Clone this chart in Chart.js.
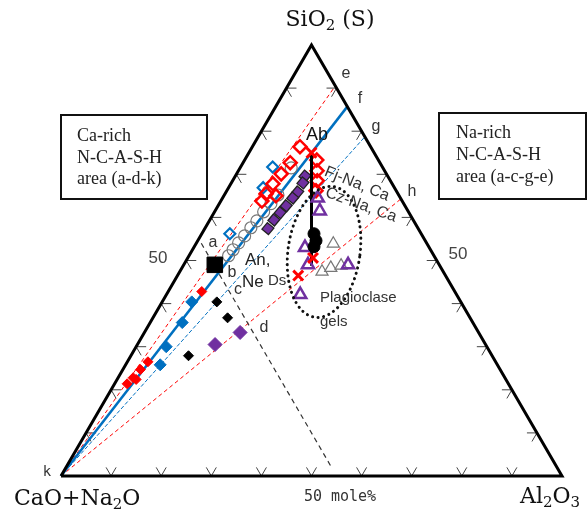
<!DOCTYPE html>
<html><head><meta charset="utf-8">
<script src="https://cdn.jsdelivr.net/npm/chart.js@4"></script>
<style>html,body{margin:0;padding:0;background:#fff;}#wrap{width:587px;height:517px;position:relative;}</style>
</head><body><div id="wrap"><canvas id="c" width="587" height="517"></canvas></div>
<script>
// ternary compositions as [SiO2, Al2O3] in mole%  (CaO+Na2O = 100 - SiO2 - Al2O3)
const tickValues = [10,20,30,40,50,60,70,80,90];
const vertexK = [0,0];
const vertexS = [100,0];
const vertexA = [0,100];
const endE = [90.5,9.5];
const endF = [85.7,14.3];
const endG = [78.7,21.3];
const endH = [64.3,35.7];
const lineAB_AN = [[75,12.5],[48.8,25.6]];
const dashedLine = [[54,1],[2,53]];
const ellipseCenter = [52,26.5];

const blueOpenDiamonds = [[71.7,6.4],[66.9,6.9],[56.2,5.6]];
const redOpenDiamonds = [[76.4,9.5],[72.7,9.4],[70.1,8.9],[67.8,8.4],[65.5,8.2],[63.8,8.2],[65.0,10.4],[73.3,14.4],[70.8,15.7],[68.5,16.9],[66.2,17.8]];
const redFilled = [[42.8,6.7],[26.5,4.1],[24.7,3.5],[22.8,3.0],[21.4,2.5],[22.4,3.8]];
const blueFilled = [[40.4,5.9],[35.6,6.4],[30.0,6.0],[25.8,6.9]];
const blackDiamonds = [[40.4,10.9],[36.7,14.9],[27.9,11.5]];
const blackSquare = [[49.0,6.2]];
const purpleDiamonds = [[30.5,15.5],[33.3,19.1]];
const grayCircles = [[51.1,7.9],[52.5,8.1],[54.1,8.4],[55.7,8.8],[57.6,9.1],[59.2,9.5],[61.3,9.8],[63.2,10.3],[65.2,10.7],[71.5,10.2]];
const purpleSquares = [[69.6,13.9],[68.0,14.3],[65.9,14.3],[64.5,14.0],[62.7,13.6],[61.1,13.2],[59.4,12.8],[57.4,12.6]];
const purpleTriangles = [[64.5,19.0],[61.5,20.9],[53.0,22.2],[49.0,24.8],[49.0,32.8],[42.1,26.7]];
const grayTriangles = [[53.9,27.4],[47.4,28.4],[48.3,29.7],[48.8,31.5]];
const blackCircles = [[56.2,22.4],[54.6,23.6],[53.2,23.9]];
const redCrosses = [[75.0,12.5],[50.6,25.0],[46.5,24.1]];

const SQ = Math.sqrt(3)/2;
function tp(p){ return p===null ? {x:null,y:null} : {x:(p[1]+p[0]/2)/100, y:p[0]/100*SQ}; }
function pts(a){ return a.map(tp); }

const RED='#ff0000', BLUE='#0070c0', PURPLE='#7030a0', GRAY='#808080';

// tick segments
const TL = 2;
const tickPts = [];
tickValues.forEach(t=>{
  tickPts.push([0,t],[TL,t],null,[0,t],[TL,t-TL],null);
  tickPts.push([t,0],[t,TL],null,[t,0],[t-TL,TL],null);
  tickPts.push([t,100-t],[t,100-t-TL],null,[t,100-t],[t-TL,100-t],null);
});

function lineDS(data, color, width, dash, order){
  return {data:pts(data), showLine:true, borderColor:color, borderWidth:width, borderDash:dash||[],
    pointRadius:0, pointHoverRadius:0, fill:false, tension:0, spanGaps:false, clip:false, order:order};
}
function markDS(data, style, r, fill, stroke, bw, rot, order){
  return {data:pts(data), showLine:false, pointStyle:style, pointRadius:r, pointHoverRadius:r,
    pointBackgroundColor:fill, backgroundColor:fill, pointBorderColor:stroke, borderColor:stroke,
    pointBorderWidth:bw, borderWidth:bw, pointRotation:rot||0, clip:false, order:order};
}

const datasets = [
  lineDS(tickPts, '#444', 1, [], 100),
  lineDS([vertexK,endE], RED, 1, [4,3], 90),
  lineDS([vertexK,endH], RED, 1, [4,3], 90),
  lineDS([vertexK,endG], BLUE, 1, [4,2], 90),
  lineDS([vertexK,endF], BLUE, 2.5, [], 89),
  lineDS(dashedLine, '#333', 1.2, [5,4], 88),
  lineDS([vertexK,vertexS,vertexA,vertexK], '#000', 3, [], 87),
  markDS(grayCircles, 'circle', 6, 'rgba(0,0,0,0)', '#777', 1.2, 0, 20),
  markDS(blueOpenDiamonds, 'rectRot', 5.5, 'rgba(0,0,0,0)', BLUE, 2.2, 0, 19),
  markDS(redOpenDiamonds, 'rectRot', 6.5, 'rgba(0,0,0,0)', RED, 2.5, 0, 18),
  markDS(purpleSquares, 'rect', 6, PURPLE, '#222', 1.3, 40, 17),
  lineDS(lineAB_AN, '#000', 3, [], 16),
  markDS(redFilled, 'rectRot', 5, RED, RED, 1, 0, 15),
  markDS(blueFilled, 'rectRot', 6, BLUE, BLUE, 1, 0, 15),
  markDS(blackDiamonds, 'rectRot', 5, '#000', '#000', 1, 0, 15),
  markDS(blackSquare, 'rect', 11, '#000', '#000', 1, 0, 15),
  markDS(purpleDiamonds, 'rectRot', 7, PURPLE, PURPLE, 1, 0, 15),
  markDS(grayTriangles, 'triangle', 7, 'rgba(0,0,0,0)', '#777', 1.2, 0, 14),
  markDS(purpleTriangles, 'triangle', 7, 'rgba(0,0,0,0)', PURPLE, 2.5, 0, 13),
  markDS(blackCircles, 'circle', 6, '#000', '#000', 1, 0, 12),
  markDS(redCrosses, 'crossRot', 7, RED, RED, 3, 0, 11)
];

function txt(ctx, s, x, y, font, color, align, rot){
  ctx.save();
  ctx.font = font; ctx.fillStyle = color||'#333';
  ctx.textAlign = align||'center'; ctx.textBaseline = 'middle';
  if(rot){ ctx.translate(x,y); ctx.rotate(rot*Math.PI/180); ctx.fillText(s,0,0); }
  else ctx.fillText(s,x,y);
  ctx.restore();
}
function chem(ctx, parts, x, y, size, align){
  ctx.save();
  ctx.fillStyle='#111'; ctx.textBaseline='middle'; ctx.textAlign='left';
  const big = size+'px "DejaVu Serif"', small = Math.round(size*0.68)+'px "DejaVu Serif"';
  let w=0;
  parts.forEach(p=>{ ctx.font = p[1]?small:big; w += ctx.measureText(p[0]).width; });
  let cx = align==='center' ? x - w/2 : x;
  parts.forEach(p=>{ ctx.font = p[1]?small:big; ctx.fillText(p[0], cx, y + (p[1]? size*0.28:0)); cx += ctx.measureText(p[0]).width; });
  ctx.restore();
}

const annot = {
  id:'annot',
  afterDatasetsDraw(chart){
    const ctx = chart.ctx, xs = chart.scales.x, ys = chart.scales.y;
    const c = tp(ellipseCenter);
    ctx.save();
    ctx.strokeStyle='#111'; ctx.lineWidth=3; ctx.lineCap='round'; ctx.setLineDash([0.1,5.5]);
    ctx.beginPath();
    ctx.ellipse(xs.getPixelForValue(c.x), ys.getPixelForValue(c.y), 36, 66, 8*Math.PI/180, 0, Math.PI*2);
    ctx.stroke();
    ctx.restore();
  },
  afterDraw(chart){
    const ctx = chart.ctx;
    chem(ctx, [['SiO',0],['2',1],[' (S)',0]], 330, 20, 22, 'center');
    chem(ctx, [['CaO+Na',0],['2',1],['O',0]], 14, 499, 22, 'left');
    chem(ctx, [['Al',0],['2',1],['O',0],['3',1]], 520, 497, 22, 'left');
    txt(ctx, '50 mole%', 340, 497, '15px "DejaVu Sans Mono"', '#333');
    txt(ctx, 'k', 47, 472, '14px "DejaVu Sans Mono"', '#333');
    txt(ctx, '50', 158, 258, '17px "Liberation Sans"', '#444');
    txt(ctx, '50', 458, 254, '17px "Liberation Sans"', '#444');
    ctx.save(); ctx.strokeStyle='#111'; ctx.lineWidth=2;
    ctx.strokeRect(61,115,146,84); ctx.strokeRect(439,113,147,86); ctx.restore();
    const sf = '18px "Liberation Serif"';
    txt(ctx,'Ca-rich',77,136,sf,'#222','left');
    txt(ctx,'N-C-A-S-H',77,158,sf,'#222','left');
    txt(ctx,'area (a-d-k)',77,179,sf,'#222','left');
    txt(ctx,'Na-rich',456,133,sf,'#222','left');
    txt(ctx,'N-C-A-S-H',456,155,sf,'#222','left');
    txt(ctx,'area (a-c-g-e)',456,177,sf,'#222','left');
    const lf = '16px "Liberation Sans"';
    [['a',213,243],['b',232,273],['c',238,290],['d',264,328],['e',346,74],['f',360,99],['g',376,127],['h',412,192]]
      .forEach(l=>txt(ctx,l[0],l[1],l[2],lf,'#333'));
    txt(ctx,'Ab',317,135,'18px "Liberation Sans"','#111');
    txt(ctx,'Fj-Na, Ca',357,184,'16px "Liberation Sans"','#333','center',22);
    txt(ctx,'Cz-Na, Ca',361,205,'16px "Liberation Sans"','#333','center',20);
    txt(ctx,'An,',245,260,'17px "Liberation Sans"','#222','left');
    txt(ctx,'Ne',242,282,'17px "Liberation Sans"','#222','left');
    txt(ctx,'Ds',268,281,'15px "Liberation Sans"','#333','left');
    txt(ctx,'Plagioclase',320,298,'15px "Liberation Sans"','#333','left');
    txt(ctx,'gels',320,322,'15px "Liberation Sans"','#333','left');
  }
};

new Chart(document.getElementById('c'), {
  type:'scatter',
  data:{datasets},
  options:{
    responsive:false, animation:false, devicePixelRatio:1, events:[],
    layout:{padding:{left:61,right:25,top:45,bottom:41}},
    scales:{
      x:{type:'linear',min:0,max:1,display:false},
      y:{type:'linear',min:0,max:SQ,display:false}
    },
    plugins:{legend:{display:false},tooltip:{enabled:false},title:{display:false}}
  },
  plugins:[annot]
});
</script></body></html>
